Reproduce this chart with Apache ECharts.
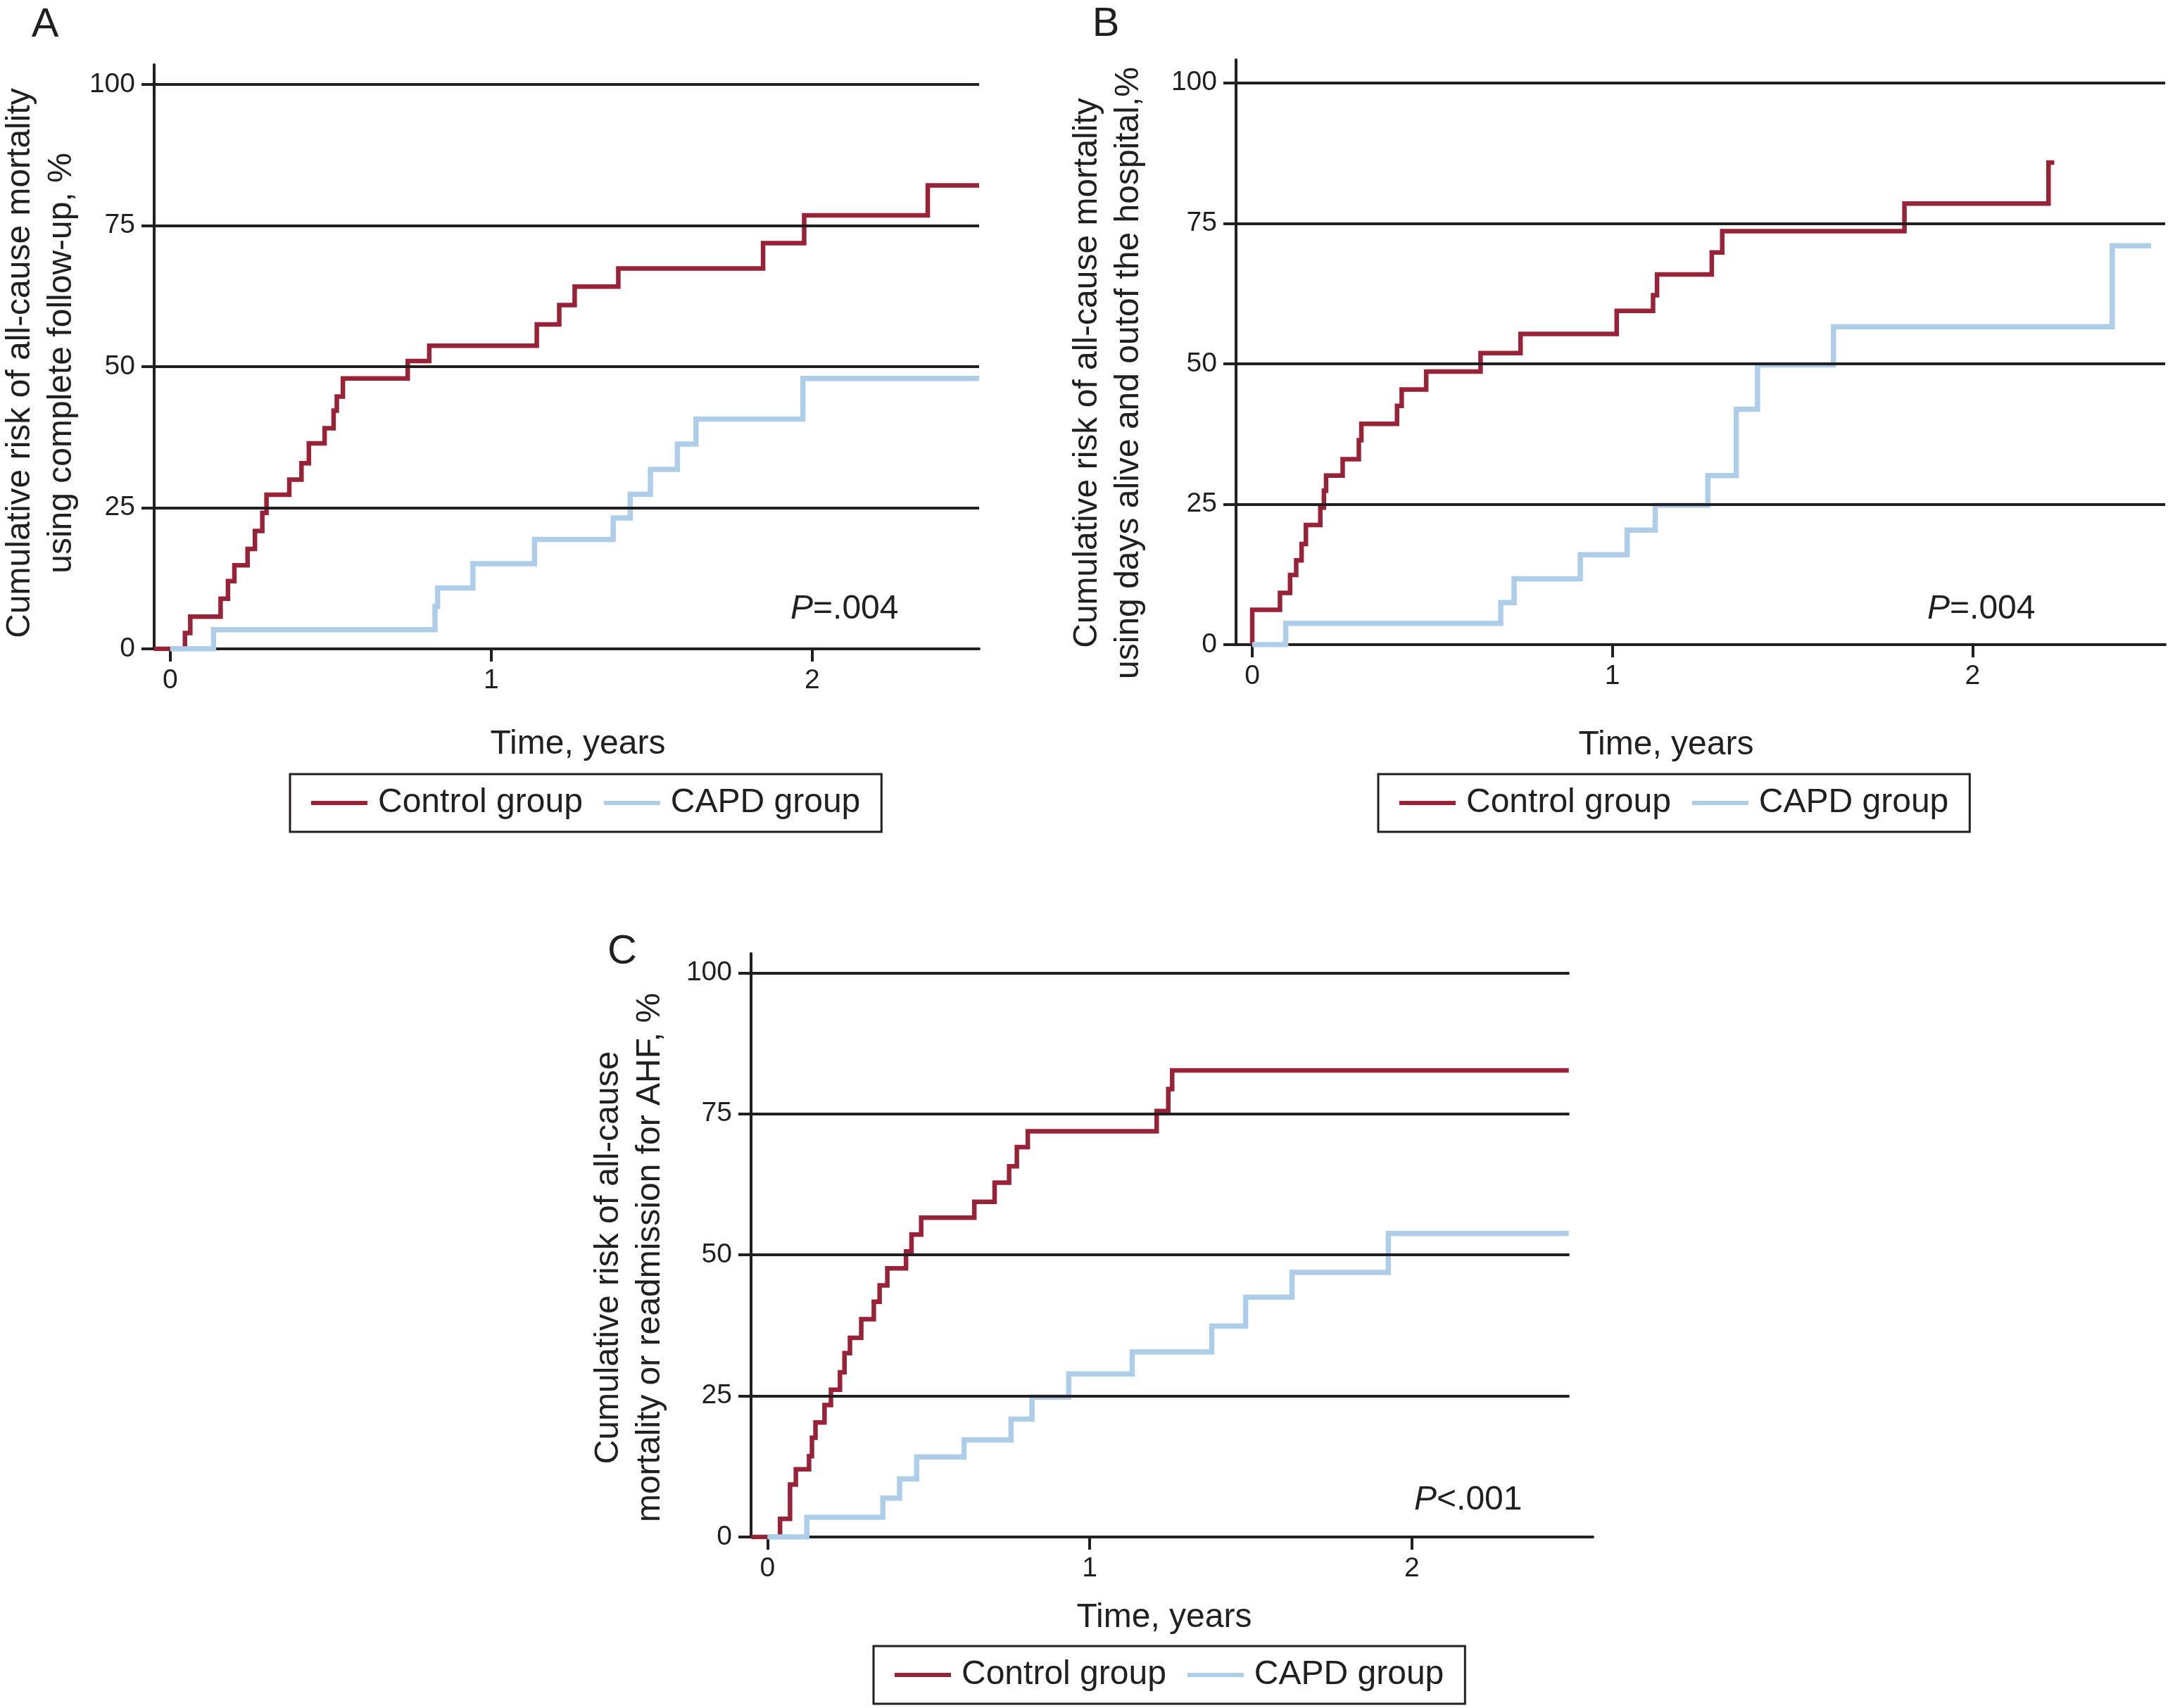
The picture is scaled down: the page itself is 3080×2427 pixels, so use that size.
<!DOCTYPE html>
<html>
<head>
<meta charset="utf-8">
<script src="https://cdn.jsdelivr.net/npm/echarts@6/dist/echarts.min.js"></script>
<style>
html,body{margin:0;padding:0;background:#fff;}
#chart{width:3080px;height:2427px;}
</style>
</head>
<body>
<div id="chart"></div>
<script>
// ---------- data (time in years, cumulative risk in %) ----------
const xTicks = [0, 1, 2];
const yTicks = [0, 25, 50, 75, 100];
const gridLevels = [25, 50, 75, 100];
const seriesNames = ['Control group', 'CAPD group'];
const panelLetters = ['A', 'B', 'C'];
const yTitles = [
  'Cumulative risk of all-cause mortality\nusing complete follow-up, %',
  'Cumulative risk of all-cause mortality\nusing days alive and outof the hospital,%',
  'Cumulative risk of all-cause\nmortality or readmission for AHF, %'
];
const xTitle = 'Time, years';
const pTexts = ['=.004', '=.004', '<.001'];

const aControl = [[-0.05,0],[0.046,2.8],[0.0625,5.7],[0.157,8.9],[0.180,12.0],[0.200,14.8],[0.241,17.7],[0.264,20.9],[0.287,24.1],[0.300,27.3],[0.371,30.0],[0.409,32.9],[0.432,36.4],[0.481,39.1],[0.509,42.2],[0.519,44.7],[0.538,47.9],[0.740,51.0],[0.807,53.7],[1.142,57.5],[1.212,60.9],[1.260,64.2],[1.396,67.4],[1.847,71.9],[1.975,76.8],[2.360,82.1],[2.520,82.1]];
const aCapd = [[0,0],[0.135,3.4],[0.825,7.5],[0.833,10.8],[0.943,15.1],[1.135,19.4],[1.380,23.2],[1.433,27.4],[1.496,31.8],[1.580,36.3],[1.638,40.7],[1.971,47.9],[2.520,47.9]];

const bControl = [[0,0],[0,6.2],[0.077,9.2],[0.105,12.4],[0.122,15.0],[0.137,17.9],[0.149,21.3],[0.189,24.4],[0.199,27.4],[0.205,30.1],[0.251,33.0],[0.296,36.4],[0.303,39.3],[0.402,42.5],[0.415,45.4],[0.483,48.6],[0.634,51.9],[0.745,55.3],[1.012,59.4],[1.113,62.2],[1.124,65.9],[1.276,69.8],[1.305,73.6],[1.811,78.5],[2.211,85.8],[2.227,85.8]];
const bCapd = [[0,0],[0.093,3.8],[0.690,7.5],[0.727,11.7],[0.911,16.0],[1.041,20.4],[1.119,24.8],[1.265,30.1],[1.344,41.9],[1.403,49.8],[1.614,56.6],[2.388,71.0],[2.496,71.0]];

const cControl = [[-0.05,0],[0.039,3.2],[0.070,9.3],[0.088,12.0],[0.129,14.3],[0.138,17.6],[0.149,20.3],[0.177,23.4],[0.197,26.1],[0.225,29.2],[0.239,32.6],[0.256,35.3],[0.291,38.6],[0.330,41.7],[0.348,44.6],[0.372,47.6],[0.430,50.6],[0.447,53.6],[0.477,56.6],[0.642,59.4],[0.705,62.8],[0.750,65.7],[0.774,69.1],[0.808,71.9],[1.208,75.5],[1.244,79.4],[1.256,82.7],[2.487,82.7]];
const cCapd = [[0,0],[0.122,3.5],[0.358,6.9],[0.410,10.3],[0.463,14.2],[0.610,17.2],[0.756,20.9],[0.821,24.8],[0.935,28.9],[1.132,32.8],[1.379,37.4],[1.484,42.5],[1.628,46.9],[1.927,53.8],[2.487,53.8]];

// ---------- layout / style ----------
const FONT = '"Liberation Sans", Arial, Helvetica, sans-serif';
const INK = '#231f20';
const RED = '#982339';
const BLUE = '#aecde9';

const panels = [
  { grid: {left: 219, right: 3080 - 1391, top: 92, bottom: 2427 - 922},
    xMin: -0.05, xMax: 2.52, yMax: 103.5, gridEnd: 2.52,
    control: aControl, capd: aCapd,
    letter: [64, 36], yTitle: [58, 516], xTitle: [821, 1058], p: [1123, 866],
    legend: {left: 412, top: 1100} },
  { grid: {left: 1756, right: 4, top: 85, bottom: 2427 - 916},
    xMin: -0.045, xMax: 2.535, yMax: 104.1, gridEnd: 2.535,
    control: bControl, capd: bCapd,
    letter: [1571, 35], yTitle: [1574, 530], xTitle: [2367, 1059], p: [2738, 866],
    legend: {left: 1958, top: 1100} },
  { grid: {left: 1067, right: 3080 - 2263, top: 1355, bottom: 2427 - 2184},
    xMin: -0.051, xMax: 2.562, yMax: 103.4, gridEnd: 2.489,
    control: cControl, capd: cCapd,
    letter: [884, 1353], yTitle: [894, 1787], xTitle: [1654, 2299], p: [2009, 2132],
    legend: {left: 1241, top: 2339} }
];

const grids = [], xAxes = [], yAxes = [], series = [], legends = [], graphics = [];

panels.forEach((p, i) => {
  grids.push(Object.assign({containLabel: false}, p.grid));
  xAxes.push({
    type: 'value', gridIndex: i, min: p.xMin, max: p.xMax,
    axisLine: {show: true, onZero: false, lineStyle: {color: INK, width: 4}},
    axisTick: {show: true, customValues: xTicks, length: 18, lineStyle: {color: INK, width: 4}},
    axisLabel: {show: true, customValues: xTicks, fontSize: 39, color: INK, fontFamily: FONT, margin: 26},
    splitLine: {show: false}
  });
  yAxes.push({
    type: 'value', gridIndex: i, min: 0, max: p.yMax,
    axisLine: {show: true, onZero: false, lineStyle: {color: INK, width: 4}},
    axisTick: {show: true, customValues: yTicks, length: 18, lineStyle: {color: INK, width: 4}},
    axisLabel: {show: true, customValues: yTicks, fontSize: 39, color: INK, fontFamily: FONT, margin: 27},
    splitLine: {show: false}
  });
  // horizontal reference lines
  series.push({
    type: 'line', name: 'grid' + i, xAxisIndex: i, yAxisIndex: i, data: [], silent: true, z: 1,
    markLine: {
      silent: true, symbol: 'none', animation: false,
      label: {show: false},
      lineStyle: {color: INK, width: 4.2, type: 'solid'},
      data: gridLevels.map(v => [{coord: [p.xMin, v]}, {coord: [p.gridEnd, v]}])
    }
  });
  series.push({
    type: 'line', name: seriesNames[0], xAxisIndex: i, yAxisIndex: i, data: p.control,
    step: 'end', symbol: 'none', showSymbol: false, z: 3,
    lineStyle: {color: RED, width: 6.5, cap: 'butt', join: 'miter'}, itemStyle: {color: RED}
  });
  series.push({
    type: 'line', name: seriesNames[1], xAxisIndex: i, yAxisIndex: i, data: p.capd,
    step: 'end', symbol: 'none', showSymbol: false, z: 4,
    lineStyle: {color: BLUE, width: 7.5, cap: 'butt', join: 'miter'}, itemStyle: {color: BLUE}
  });
  legends.push({
    left: p.legend.left, top: p.legend.top, orient: 'horizontal',
    data: seriesNames, selectedMode: false,
    icon: 'rect',
    padding: [17, 30, 17, 30], itemGap: 30, itemWidth: 80, itemHeight: 6,
    borderColor: INK, borderWidth: 3, borderRadius: 0,
    textStyle: {fontSize: 48, color: INK, fontFamily: FONT, padding: [0, 0, 0, 10]}
  });
  graphics.push({
    type: 'text', x: p.letter[0], y: p.letter[1],
    style: {text: panelLetters[i], font: '58px ' + FONT, fill: INK, textAlign: 'center', textVerticalAlign: 'middle'}
  });
  graphics.push({
    type: 'text', x: p.yTitle[0], y: p.yTitle[1], rotation: Math.PI / 2,
    style: {text: yTitles[i], font: '48px ' + FONT, fill: INK, textAlign: 'center', textVerticalAlign: 'middle', lineHeight: 59}
  });
  graphics.push({
    type: 'text', x: p.xTitle[0], y: p.xTitle[1],
    style: {text: xTitle, font: '48px ' + FONT, fill: INK, textAlign: 'center', textVerticalAlign: 'middle'}
  });
  graphics.push({
    type: 'text', x: p.p[0], y: p.p[1],
    style: {
      text: '{i|P}{n|' + pTexts[i] + '}',
      rich: {
        i: {fontSize: 48, fontStyle: 'italic', fontFamily: FONT, fill: INK, color: INK},
        n: {fontSize: 48, fontFamily: FONT, fill: INK, color: INK}
      },
      textAlign: 'left', textVerticalAlign: 'middle'
    }
  });
});

const chart = echarts.init(document.getElementById('chart'), null, {renderer: 'canvas'});
chart.setOption({
  backgroundColor: '#ffffff',
  animation: false,
  grid: grids, xAxis: xAxes, yAxis: yAxes, series: series,
  legend: legends,
  graphic: graphics
});
</script>
</body>
</html>
